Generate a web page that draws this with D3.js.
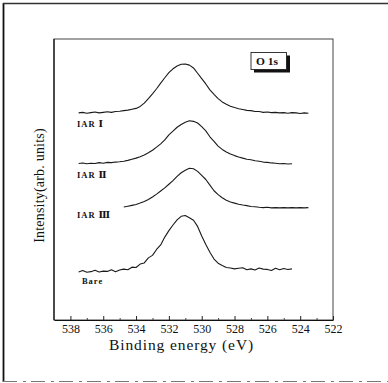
<!DOCTYPE html>
<html><head><meta charset="utf-8">
<script src="https://cdn.jsdelivr.net/npm/d3@7"></script>
<style>html,body{margin:0;padding:0;background:#fff;} svg{display:block;}
svg text{font-family:"Liberation Serif","DejaVu Serif",serif;}</style>
</head><body><svg id="c" width="388" height="383"></svg>
<script>
// Binding energy grid (eV)
const energy = [537.5,537.25,537,536.75,536.5,536.25,536,535.75,535.5,535.25,535,534.75,534.5,534.25,534,533.75,533.5,533.25,533,532.75,532.5,532.25,532,531.75,531.5,531.25,531,530.75,530.5,530.25,530,529.75,529.5,529.25,529,528.75,528.5,528.25,528,527.75,527.5,527.25,527,526.75,526.5,526.25,526,525.75,525.5,525.25,525,524.75,524.5,524.25,524,523.75,523.5];
// Intensity (arb. units, stacked)
const iar1 = [73.7,73.9,73.6,73.8,74.0,73.7,73.9,74.1,73.9,74.2,74.3,74.5,74.7,75.0,75.3,76.0,77.2,78.8,80.5,82.3,84.3,86.2,88.0,89.4,90.4,91.0,91.1,90.7,89.7,87.8,85.9,84.0,81.9,80.3,78.8,77.6,76.8,76.1,75.6,75.2,74.9,74.6,74.5,74.2,74.2,73.9,74.0,73.8,73.9,73.7,73.8,73.6,73.8,73.7,73.5,73.7,73.6];
const iar2 = [55.7,55.9,55.6,55.8,55.7,56.0,55.8,56.1,56.0,56.2,56.3,56.5,56.8,57.2,57.6,58.1,58.7,59.5,60.4,61.5,62.7,64.1,65.9,67.2,68.6,69.6,70.4,70.9,70.7,70.1,68.8,67.3,65.2,63.6,61.9,60.7,59.8,59.1,58.5,58.0,57.6,57.2,57.0,56.7,56.5,56.2,56.1,55.9,55.8,55.6,55.7,55.5,55.6,null,null,null,null];
const iar3 = [null,null,null,null,null,null,null,null,null,null,null,40.2,40.5,40.8,41.1,41.6,42.2,42.9,43.8,44.8,45.9,47.0,48.3,49.6,51.1,52.4,53.3,54.0,53.8,52.9,51.5,50.0,48.0,46.0,44.6,43.5,42.6,42.0,41.6,41.2,40.9,40.7,40.4,40.3,40.1,40.0,40.1,39.9,40.0,39.9,40.0,39.9,40.0,39.9,40.0,39.9,40.0];
const bare = [17.1,17.6,17.0,17.2,17.7,17.1,17.4,17.3,17.9,17.2,17.8,18.1,17.9,18.8,18.7,19.9,20.3,22.1,23.0,25.1,26.7,29.5,31.8,33.8,35.6,36.9,37.2,36.4,35.5,33.3,29.9,26.9,24.1,21.7,20.2,19.4,18.7,18.5,18.2,18.4,18.6,17.9,18.2,17.8,18.5,18.1,18.0,17.6,18.4,17.9,18.3,18.0,18.2,null,null,null,null];
const seriesNames = ["IAR", "IAR", "IAR", "Bare"];
const seriesNumerals = ["\u2160", "\u2161", "\u2162", ""];
const majorTicks = [538,536,534,532,530,528,526,524,522];
const minorTicks = [537,535,533,531,529,527,525,523];
const legendLabel = "O 1s";
const xTitle = "Binding energy (eV)";
const yTitle = "Intensity(arb. units)";

const svg = d3.select("#c");
const L = 54, R = 333, T = 39, B = 320;
const x = d3.scaleLinear().domain([539, 522]).range([L, R]);
const y = d3.scaleLinear().domain([0, 100]).range([B, T]);

// outer frame
svg.append("line").attr("x1",3.5).attr("x2",3.5).attr("y1",3).attr("y2",382).attr("stroke","#111").attr("stroke-width",1.8);
svg.append("line").attr("x1",3).attr("x2",388).attr("y1",3.5).attr("y2",3.5).attr("stroke","#333").attr("stroke-width",1.4);
svg.append("line").attr("x1",3).attr("x2",388).attr("y1",381.5).attr("y2",381.5).attr("stroke","#777").attr("stroke-width",1.2).attr("stroke-dasharray","14,6,3,5");

// plot box
svg.append("rect").attr("x",L).attr("y",T).attr("width",R-L).attr("height",B-T)
  .attr("fill","none").attr("stroke","#444").attr("stroke-width",1);
svg.append("line").attr("x1",L).attr("x2",L).attr("y1",T).attr("y2",B).attr("stroke","#111").attr("stroke-width",1.2);

// axes
const ax = svg.append("g").attr("transform",`translate(0,${B})`)
  .call(d3.axisBottom(x).tickValues(majorTicks).tickFormat(d3.format("d")).tickSizeInner(-4).tickSizeOuter(0).tickPadding(4.5));
ax.attr("font-family",null);
ax.select(".domain").attr("stroke","#111").attr("stroke-width",1.2);
ax.selectAll(".tick line").attr("stroke","#222");
ax.selectAll(".tick text").attr("font-size",12).attr("fill","#111");
const axm = svg.append("g").attr("transform",`translate(0,${B})`)
  .call(d3.axisBottom(x).tickValues(minorTicks).tickFormat("").tickSizeInner(-2).tickSizeOuter(0));
axm.select(".domain").remove();
axm.selectAll(".tick line").attr("stroke","#444");

// titles
svg.append("text").attr("x",181.5).attr("y",350).attr("text-anchor","middle")
  .attr("font-size",15.5).attr("letter-spacing",0.9).attr("fill","#111").text(xTitle);
svg.append("text").attr("transform","translate(44,185.5) rotate(-90)").attr("text-anchor","middle")
  .attr("font-size",14).attr("letter-spacing",0.2).attr("fill","#111").text(yTitle);

// curves
const data = [iar1, iar2, iar3, bare];
const line = d3.line().defined(d => d[1] != null).x(d => x(d[0])).y(d => y(d[1]));
data.forEach(s => {
  svg.append("path").datum(energy.map((e,i) => [e, s[i]]))
    .attr("d", line).attr("fill","none").attr("stroke","#1a1a1a").attr("stroke-width",1.1).attr("stroke-linejoin","round");
});

// series labels
const labelPos = [[537.6, 14],[537.6, 13.7],[537.6, 10.5],[537.3, 12]];
data.forEach((s,i) => {
  const b = d3.min(s.filter(v => v != null));
  const t = svg.append("text").attr("x", x(labelPos[i][0])).attr("y", y(b) + labelPos[i][1])
    .attr("font-weight","bold").attr("font-size",8.5).attr("letter-spacing",1).attr("fill","#111");
  t.append("tspan").text(seriesNames[i]);
  if (seriesNumerals[i]) t.append("tspan").attr("dx",3).attr("font-size",9.5).text(seriesNumerals[i]);
});

// legend box with shadow
const lg = svg.append("g");
lg.append("rect").attr("x",254).attr("y",55.5).attr("width",36).attr("height",17).attr("fill","#111");
lg.append("rect").attr("x",251).attr("y",52.5).attr("width",35.5).attr("height",17).attr("fill","#fff").attr("stroke","#222").attr("stroke-width",0.9);
lg.append("text").attr("x",256).attr("y",65).attr("font-size",11).attr("font-weight","bold")
  .attr("textLength",22).attr("lengthAdjust","spacingAndGlyphs").attr("fill","#111").text(legendLabel);
</script></body></html>
